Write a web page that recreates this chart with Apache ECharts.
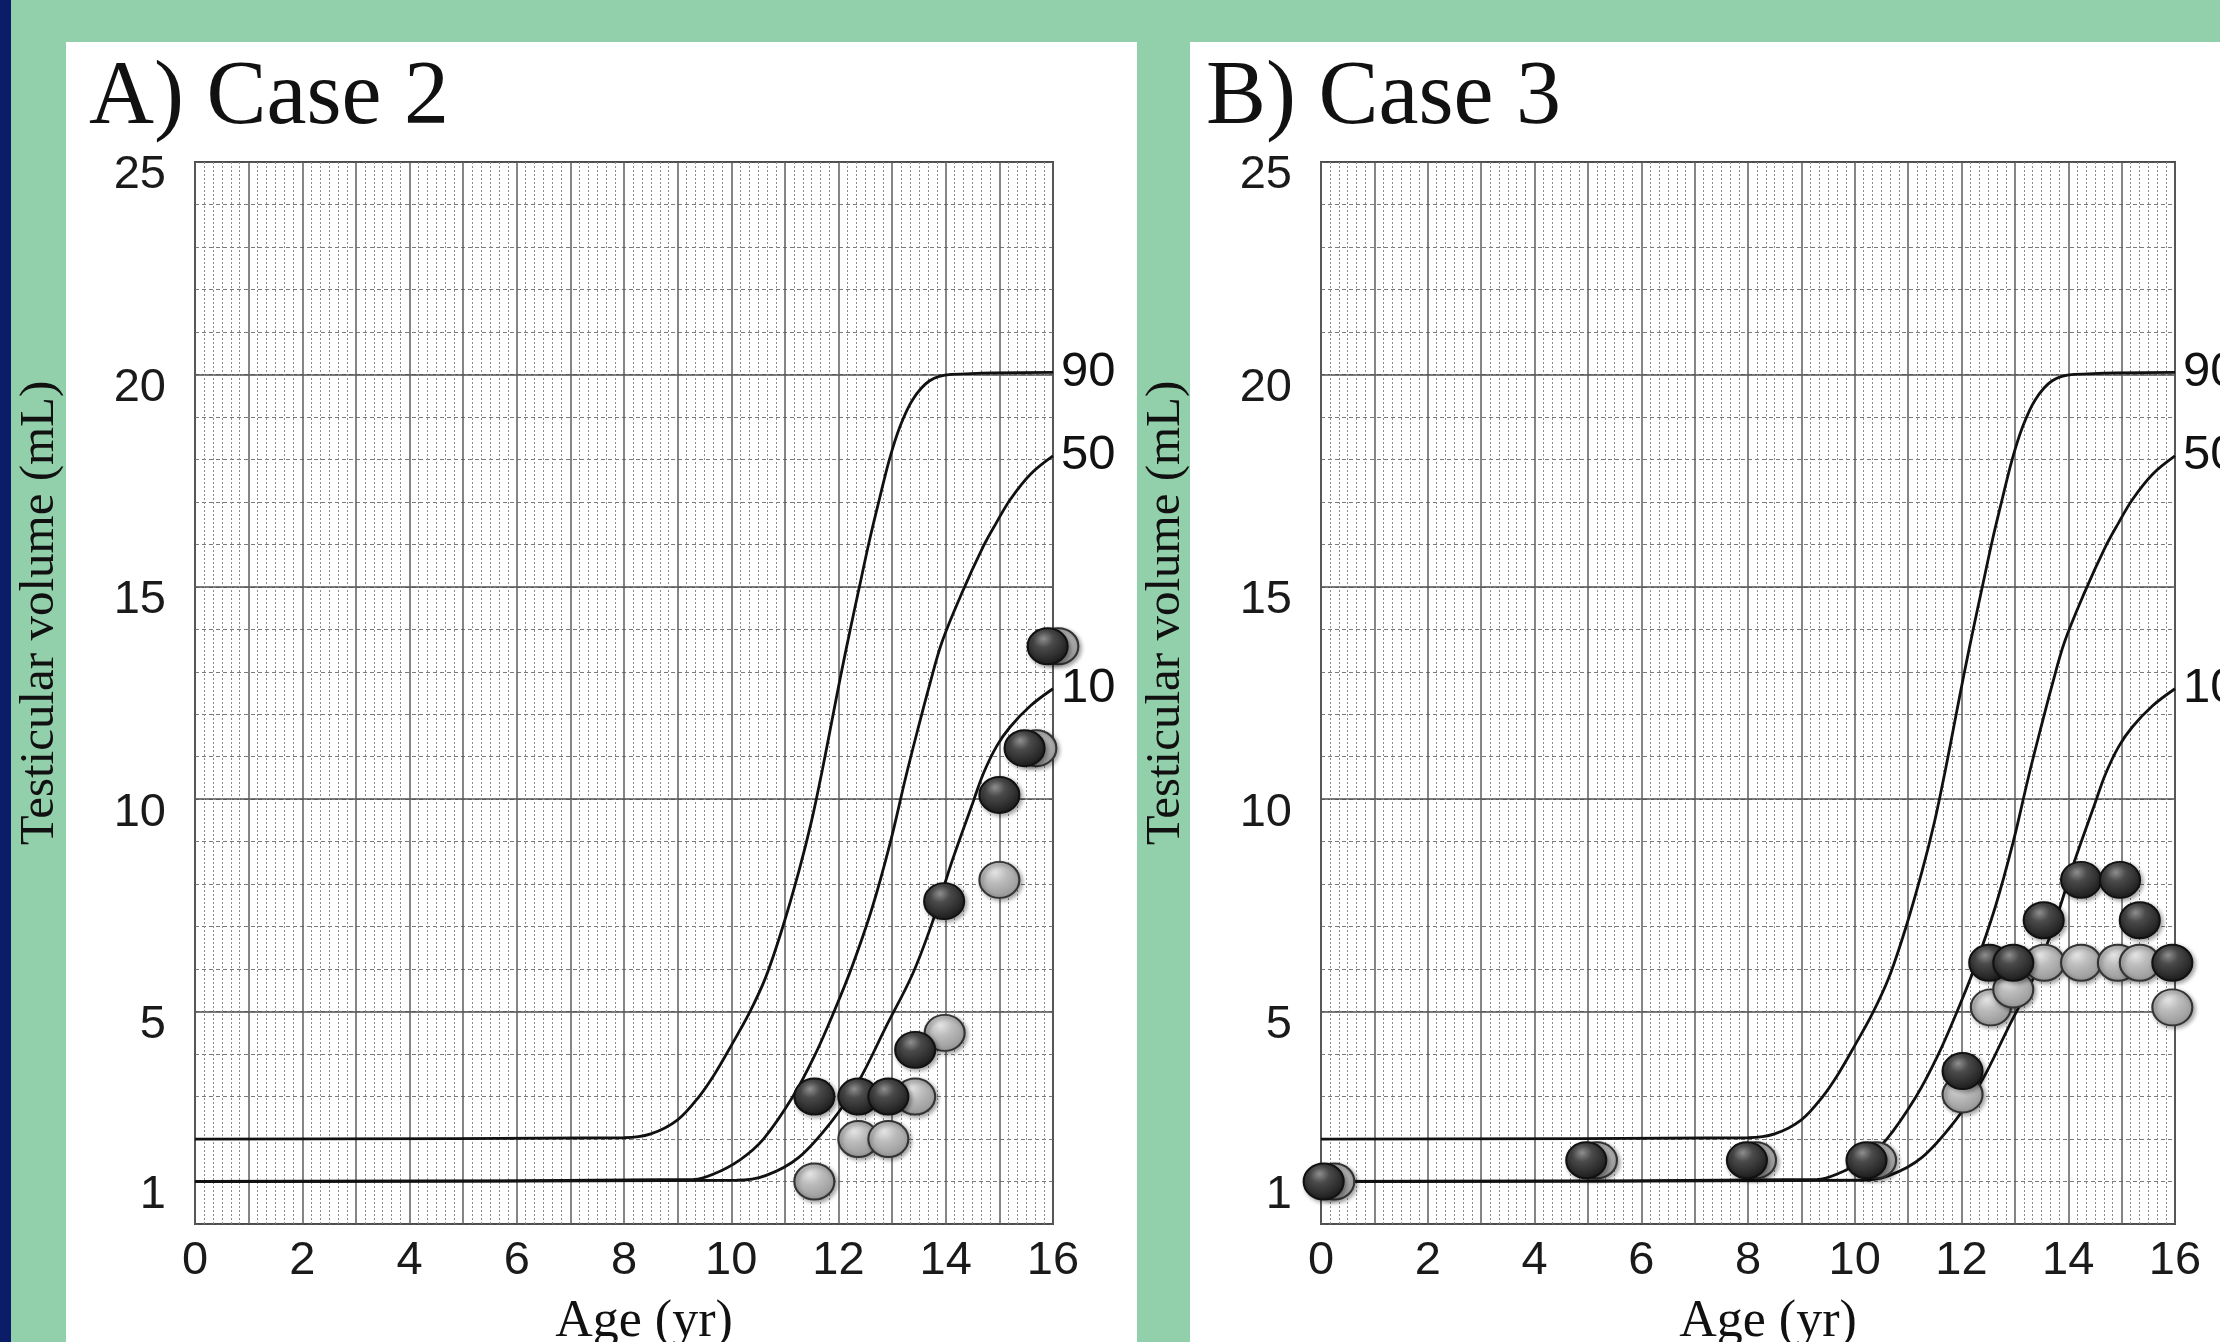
<!DOCTYPE html>
<html><head><meta charset="utf-8">
<script src="https://cdn.jsdelivr.net/npm/echarts@6/dist/echarts.min.js"></script>
<style>html,body{margin:0;padding:0;background:#92cfab;overflow:hidden}#c{width:2220px;height:1342px}</style>
</head><body><div id="c"></div>
<script>
// ---------- data ----------
const panelTitles = ['A) Case 2', 'B) Case 3'];
const xAxisName = 'Age (yr)';
const yAxisName = 'Testicular volume (mL)';
const xTickLabels = [0, 2, 4, 6, 8, 10, 12, 14, 16];
const yTickLabels = [1, 5, 10, 15, 20, 25];
const percentileNames = ['90', '50', '10'];

const p90Age = [0, 8.0, 8.5, 9.0, 9.4, 9.7, 10.0, 10.33, 10.64, 10.95, 11.26, 11.5, 11.7, 11.87, 12.04, 12.22, 12.39, 12.57, 12.76, 12.95, 13.14, 13.38, 13.7, 14.1, 16];
const p90Vol = [2, 2.03, 2.12, 2.45, 3.0, 3.55, 4.2, 4.95, 5.8, 6.95, 8.3, 9.5, 10.7, 11.8, 12.9, 14, 15, 16.05, 17.05, 18, 18.75, 19.4, 19.85, 20, 20.05];
const p50Age = [0, 9.3, 9.66, 10.15, 10.6, 11.15, 11.55, 11.9, 12.25, 12.63, 12.97, 13.25, 13.47, 13.7, 13.93, 14.3, 14.7, 14.94, 15.2, 15.58, 16];
const p50Vol = [1, 1.05, 1.17, 1.5, 2, 3, 3.95, 4.95, 6.05, 7.45, 9.0, 10.5, 11.6, 12.7, 13.7, 14.85, 15.95, 16.5, 17.05, 17.65, 18.08];
const p10Age = [0, 10.1, 10.64, 11.26, 11.88, 12.38, 12.88, 13.38, 13.75, 14.12, 14.5, 14.7, 14.95, 15.2, 15.58, 16];
const p10Vol = [1, 1.03, 1.14, 1.57, 2.43, 3.37, 4.63, 5.88, 7.1, 8.55, 9.9, 10.6, 11.25, 11.7, 12.2, 12.6];

// Case 2 (panel A)
const aDarkAge  = [11.55, 12.37, 12.93, 13.43, 13.97, 15.0, 15.47, 15.9];
const aDarkVol  = [3, 3, 3, 4.1, 7.6, 10.1, 11.2, 13.6];
const aLightAge = [11.55, 12.37, 12.93, 13.43, 13.98, 15.0, 15.69, 16.1];
const aLightVol = [1, 2, 2, 3, 4.5, 8.1, 11.2, 13.6];
// Case 3 (panel B)
const bDarkAge  = [0.05, 4.97, 7.98, 10.22, 12.02, 12.52, 12.97, 13.54, 14.24, 14.97, 15.34, 15.95];
const bDarkVol  = [1, 1.5, 1.5, 1.5, 3.6, 6.15, 6.15, 7.15, 8.1, 8.1, 7.15, 6.15];
const bLightAge = [0.25, 5.17, 8.15, 10.4, 12.02, 12.55, 12.97, 13.55, 14.24, 14.93, 15.34, 15.95];
const bLightVol = [1, 1.5, 1.5, 1.5, 3.05, 5.1, 5.52, 6.15, 6.15, 6.15, 6.15, 5.1];

// ---------- helpers ----------
const zip = (a, b) => a.map((v, i) => [v, b[i]]);
const curves = [zip(p90Age, p90Vol), zip(p50Age, p50Vol), zip(p10Age, p10Vol)];
const panels = [
  { dark: zip(aDarkAge, aDarkVol), light: zip(aLightAge, aLightVol) },
  { dark: zip(bDarkAge, bDarkVol), light: zip(bLightAge, bLightVol) }
];
const gridPos = [{ left: 195, width: 858 }, { left: 1321, width: 854 }];
const SANS = '"Liberation Sans",Arial,sans-serif';
const SERIF = '"Liberation Serif","Times New Roman",serif';

const darkFill = { type: 'radial', x: 0.4, y: 0.3, r: 0.8, colorStops: [
  { offset: 0, color: '#8e8e8e' }, { offset: 0.3, color: '#4a4a4a' }, { offset: 0.75, color: '#262626' }, { offset: 1, color: '#141414' }] };
const lightFill = { type: 'radial', x: 0.4, y: 0.3, r: 0.8, colorStops: [
  { offset: 0, color: '#e4e4e4' }, { offset: 0.35, color: '#bcbcbc' }, { offset: 0.8, color: '#9c9c9c' }, { offset: 1, color: '#7e7e7e' }] };

const grids = [], xAxes = [], yAxes = [], series = [], titles = [];
gridPos.forEach((g, i) => {
  grids.push({ left: g.left, top: 162, width: g.width, height: 1062, show: true,
    outerBoundsMode: 'none', containLabel: false,
    borderColor: '#4a4a4a', borderWidth: 2, backgroundColor: 'rgba(0,0,0,0)' });
  xAxes.push({ type: 'value', gridIndex: i, min: 0, max: 16, interval: 1,
    axisLine: { show: false }, axisTick: { show: false },
    axisLabel: { fontFamily: SANS, fontSize: 47, color: '#1a1a1a', margin: 14,
      formatter: v => xTickLabels.includes(v) ? String(v) : '' },
    splitLine: { show: true, lineStyle: { color: '#5c5c5c', width: 1.5 } },
    minorTick: { show: false, splitNumber: 6 },
    minorSplitLine: { show: true, lineStyle: { color: '#8a8a8a', width: 1, type: [2, 2] } },
    name: xAxisName, nameLocation: 'middle', nameGap: 72,
    nameTextStyle: { fontFamily: SERIF, fontSize: 52, color: '#111', padding: [0, 0, 0, 40] } });
  yAxes.push({ type: 'value', gridIndex: i, min: 0, max: 25, interval: 1,
    axisLine: { show: false }, axisTick: { show: false },
    axisLabel: { margin: 29,
      formatter: v => yTickLabels.includes(v) ? '{t|' + v + '}' : '',
      rich: { t: { fontFamily: SANS, fontSize: 47, color: '#1a1a1a', padding: [27, 0, 0, 0] } } },
    splitLine: { show: true, lineStyle: { color: '#7a7a7a', width: 1, type: [4, 3] } },
    name: yAxisName, nameLocation: 'middle', nameRotate: 90, nameGap: 130,
    nameTextStyle: { fontFamily: SERIF, fontSize: 49, color: '#111', padding: [0, 0, 0, 160] } });
  yAxes.push({ type: 'value', gridIndex: i, min: 0, max: 25, interval: 5, position: 'left',
    axisLine: { show: false }, axisTick: { show: false }, axisLabel: { show: false },
    splitLine: { show: true, lineStyle: { color: '#4e4e4e', width: 1.5 } } });
  titles.push({ text: panelTitles[i], left: i === 0 ? 84 : 1201, top: 49,
    textStyle: { fontFamily: SERIF, fontSize: 90, fontWeight: 'normal', color: '#111' } });

  curves.forEach((c, k) => {
    series.push({ type: 'line', name: percentileNames[k], xAxisIndex: i, yAxisIndex: i * 2,
      data: c, smooth: 0.35, showSymbol: false, symbol: 'none', z: 3,
      lineStyle: { color: '#111', width: 2.8 },
      endLabel: { show: true, formatter: '{a}', distance: 8, fontFamily: SANS, fontSize: 49, color: '#111' } });
  });
  const dot = (data, fill, border, z) => ({ type: 'scatter', xAxisIndex: i, yAxisIndex: i * 2, data,
    symbol: 'circle', symbolSize: [40, 36], clip: false, z,
    itemStyle: { color: fill, borderColor: border, borderWidth: 2, opacity: 1,
      shadowBlur: 4, shadowColor: 'rgba(0,0,0,0.35)', shadowOffsetX: 2, shadowOffsetY: 2 } });
  series.push(dot(panels[i].light, lightFill, '#333', 4));
  series.push(dot(panels[i].dark, darkFill, '#111', 5));
});

const chart = echarts.init(document.getElementById('c'), null, { renderer: 'canvas' });
chart.setOption({
  animation: false,
  backgroundColor: '#92cfab',
  graphic: [
    { type: 'rect', z: -100, shape: { x: 0, y: 0, width: 11, height: 1342 }, style: { fill: '#0b1c68' }, silent: true },
    { type: 'rect', z: -100, shape: { x: 66, y: 42, width: 1071, height: 1300 }, style: { fill: '#ffffff' }, silent: true },
    { type: 'rect', z: -100, shape: { x: 1190, y: 42, width: 1030, height: 1300 }, style: { fill: '#ffffff' }, silent: true }
  ],
  title: titles,
  grid: grids,
  xAxis: xAxes,
  yAxis: yAxes,
  series: series
});
</script></body></html>
